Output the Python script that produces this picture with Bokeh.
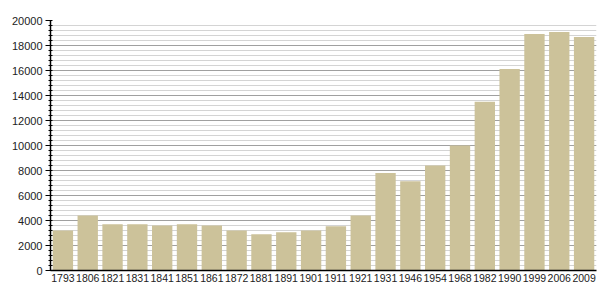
from bokeh.plotting import figure
from bokeh.models import FactorRange, Range1d, SingleIntervalTicker
from bokeh.embed import file_html
from bokeh.resources import INLINE

years = ["1793", "1806", "1821", "1831", "1841", "1851", "1861", "1872", "1881",
         "1891", "1901", "1911", "1921", "1931", "1946", "1954", "1968", "1982",
         "1990", "1999", "2006", "2009"]
population = [3200, 4400, 3700, 3700, 3600, 3700, 3600, 3200, 2900,
              3070, 3200, 3550, 4400, 7800, 7150, 8400, 10000, 13500,
              16120, 18930, 19090, 18690]

p = figure(width=605, height=300, output_backend="svg", toolbar_location=None,
           x_range=FactorRange(factors=years, range_padding=0),
           y_range=Range1d(0, 20000),
           min_border_left=50, min_border_right=9, min_border_top=20, min_border_bottom=30)
p.outline_line_color = None
p.background_fill_color = "white"
p.border_fill_color = "white"

p.vbar(x=years, top=population, width=0.82, fill_color="#ccc29a", line_color=None)

p.yaxis.ticker = SingleIntervalTicker(interval=2000, num_minor_ticks=5)
p.ygrid.ticker = p.yaxis.ticker
p.ygrid.grid_line_color = "#a0a0a0"
p.ygrid.minor_grid_line_color = "#d4d4d4"
p.xgrid.grid_line_color = None

for ax in (p.xaxis, p.yaxis):
    ax.axis_line_color = "black"
    ax.axis_line_width = 1.5
    ax.major_label_text_font = "Liberation Sans"
    ax.major_label_text_color = "#222222"

p.yaxis.major_label_text_font_size = "11px"
p.xaxis.major_label_text_font_size = "10.5px"

p.yaxis.major_tick_out = 5
p.yaxis.major_tick_in = 0
p.yaxis.minor_tick_out = 2
p.yaxis.minor_tick_in = 2
p.yaxis.major_tick_line_color = "black"
p.yaxis.minor_tick_line_color = "black"
p.yaxis.major_label_standoff = 3

p.xaxis.major_tick_out = 0
p.xaxis.major_tick_in = 0
p.xaxis.major_tick_line_color = None
p.xaxis.minor_tick_line_color = None
p.xaxis.major_label_standoff = 3

open("out.html", "w").write(file_html(p, INLINE))
